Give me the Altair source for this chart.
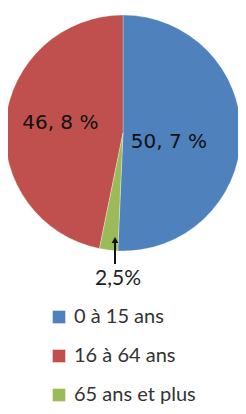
import math
import altair as alt
import pandas as pd

# ---- data ----
categories = ["0 à 15 ans", "16 à 64 ans", "65 ans et plus"]
values = [50.7, 46.8, 2.5]
slice_labels = ["50, 7 %", "46, 8 %", "2,5%"]
clockwise_order = [0, 2, 1]  # blue, green, red going clockwise from the top
colors = ["#4F81BD", "#C0504D", "#9BBB59"]

df = pd.DataFrame({
    "cat": categories,
    "value": values,
    "lbl": slice_labels,
    "ord": clockwise_order,
})

CX, CY, R = 115, 125, 118
theta_scale = alt.Scale(domain=[0, 1], range=[0, 2 * math.pi])

base = alt.Chart(df).transform_joinaggregate(
    total="sum(value)"
).transform_window(
    cum="sum(value)", sort=[alt.SortField("ord")]
).transform_calculate(
    start="(datum.cum - datum.value) / datum.total",
    end="datum.cum / datum.total",
    mid="(datum.cum - datum.value / 2) / datum.total",
)

pie = base.mark_arc(radius=R, stroke="#ffffff", strokeWidth=0.3).encode(
    theta=alt.Theta("start:Q", scale=theta_scale),
    theta2="end:Q",
    color=alt.Color(
        "cat:N",
        scale=alt.Scale(domain=categories, range=colors),
        legend=alt.Legend(
            orient="none", legendX=41, legendY=299, title=None,
            symbolType="square", symbolSize=160, symbolStrokeWidth=0,
            labelFontSize=20, labelFont="Lato", labelColor="#333333",
            rowPadding=19, labelOffset=5,
        ),
    ),
    x=alt.value(CX),
    y=alt.value(CY),
)

lbl_blue = base.transform_filter(alt.datum.ord == 0).mark_text(
    radius=46, dy=8, font="DejaVu Sans", fontSize=20, color="#111111"
).encode(
    theta=alt.Theta("mid:Q", scale=theta_scale),
    text="lbl:N", x=alt.value(CX), y=alt.value(CY),
)

lbl_red = base.transform_filter(alt.datum.ord == 2).mark_text(
    radius=63, dy=-4, font="DejaVu Sans", fontSize=20, color="#111111"
).encode(
    theta=alt.Theta("mid:Q", scale=theta_scale),
    text="lbl:N", x=alt.value(CX), y=alt.value(CY),
)

arrow_line = alt.Chart(df).mark_rule(color="#111111", strokeWidth=1.5).encode(
    x=alt.value(107), y=alt.value(256), y2=alt.value(232)
)
arrow_head = alt.Chart(df).transform_filter(alt.datum.ord == 1).mark_point(
    shape="triangle-up", filled=True, color="#111111", size=45, opacity=1
).encode(x=alt.value(107), y=alt.value(232))

lbl_green = base.transform_filter(alt.datum.ord == 1).mark_text(
    font="Lato", fontSize=21, color="#222222", baseline="middle"
).encode(text="lbl:N", x=alt.value(110), y=alt.value(271))

chart = alt.layer(pie, lbl_blue, lbl_red, arrow_line, arrow_head, lbl_green).properties(
    width=230, height=398, padding=0,
    autosize=alt.AutoSizeParams(type="none"),
).configure_view(stroke=None)

chart.save("out.html", embed_options={"renderer": "svg", "actions": False})
